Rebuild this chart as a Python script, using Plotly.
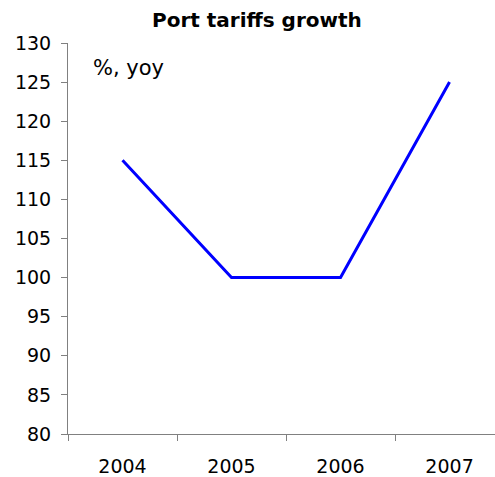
import plotly.graph_objects as go

years = ["2004", "2005", "2006", "2007"]
tariff_growth = [115, 100, 100, 125]
y_ticks = list(range(80, 131, 5))

fig = go.Figure()
fig.add_trace(go.Scatter(
    x=years, y=tariff_growth, mode="lines",
    line=dict(color="#0000FF", width=3),
    hoverinfo="skip", showlegend=False,
))

font_family = "DejaVu Sans, Verdana, sans-serif"
axis_grey = "#808080"

fig.update_layout(
    width=495, height=477,
    margin=dict(l=68, r=0, t=43, b=40),
    paper_bgcolor="white", plot_bgcolor="white",
    font=dict(family=font_family, size=19, color="black"),
    title=dict(
        text="<b>Port tariffs growth</b>",
        x=0.519, xanchor="center", y=0.958, yanchor="middle",
        font=dict(family=font_family, size=20, color="black"),
    ),
    xaxis=dict(
        type="category", range=[-0.5, 3.417],
        showline=True, linecolor=axis_grey, linewidth=1,
        ticks="outside", tickson="boundaries", ticklen=6,
        tickcolor=axis_grey, showgrid=False, zeroline=False,
        ticklabelstandoff=15,
        tickfont=dict(family=font_family, size=19, color="black"),
    ),
    yaxis=dict(
        range=[80, 130], tickvals=y_ticks,
        showline=True, linecolor=axis_grey, linewidth=1,
        ticks="outside", ticklen=6, tickcolor=axis_grey,
        showgrid=False, zeroline=False,
        ticklabelstandoff=6,
        tickfont=dict(family=font_family, size=19, color="black"),
    ),
    annotations=[dict(
        text="%, yoy", xref="paper", yref="paper",
        x=0.055, y=0.937, xanchor="left", yanchor="middle",
        showarrow=False, font=dict(family=font_family, size=21, color="black"),
    )],
)

fig.write_html("out.html")
